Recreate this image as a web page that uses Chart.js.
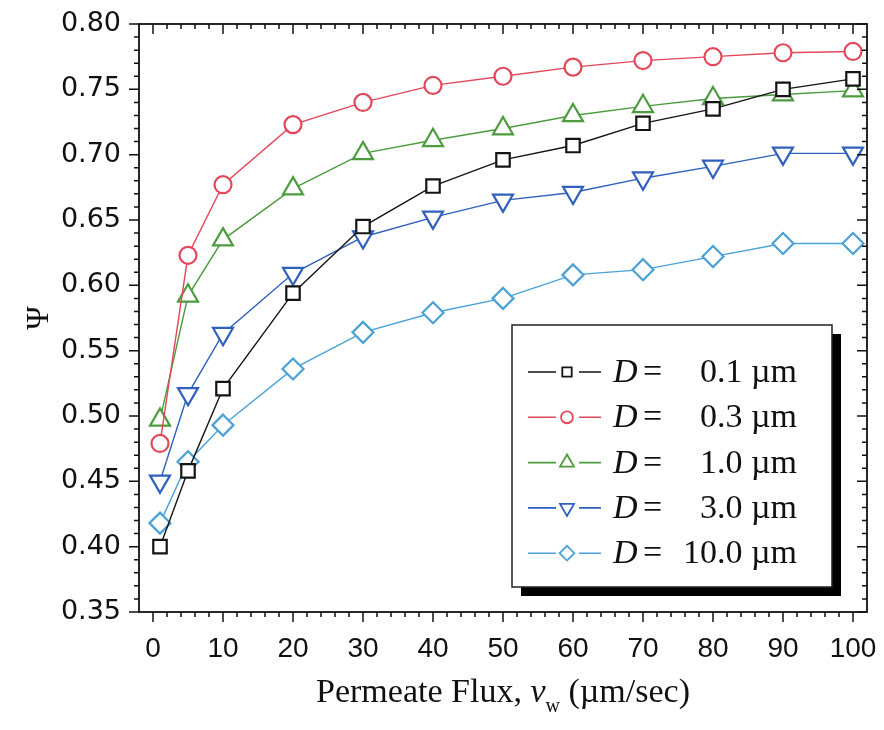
<!DOCTYPE html>
<html>
<head>
<meta charset="utf-8">
<script src="https://cdn.jsdelivr.net/npm/chart.js@4.4.1/dist/chart.umd.min.js"></script>
<style>
  html, body { margin: 0; padding: 0; background: #fff; }
  #wrap { width: 884px; height: 730px; }
</style>
</head>
<body>
<div id="wrap"><canvas id="psi-chart" width="884" height="730"></canvas></div>
<script>
// permeate flux (um/sec) and Psi values
const fluxValues = [1, 5, 10, 20, 30, 40, 50, 60, 70, 80, 90, 100];
const psiD01  = [0.400, 0.458, 0.521, 0.594, 0.645, 0.676, 0.696, 0.707, 0.724, 0.735, 0.750, 0.758];
const psiD03  = [0.479, 0.623, 0.677, 0.723, 0.740, 0.753, 0.760, 0.767, 0.772, 0.775, 0.778, 0.779];
const psiD10  = [0.497, 0.592, 0.635, 0.674, 0.701, 0.711, 0.720, 0.730, 0.737, 0.743, 0.746, 0.749];
const psiD30  = [0.450, 0.517, 0.563, 0.609, 0.637, 0.652, 0.665, 0.671, 0.682, 0.691, 0.701, 0.701];
const psiD100 = [0.418, 0.465, 0.493, 0.536, 0.564, 0.579, 0.590, 0.608, 0.612, 0.622, 0.632, 0.632];
const sizeLabels = ['0.1 µm', '0.3 µm', '1.0 µm', '3.0 µm', '10.0 µm'];
const xTickValues = [0, 10, 20, 30, 40, 50, 60, 70, 80, 90, 100];
const yTickValues = [0.35, 0.40, 0.45, 0.50, 0.55, 0.60, 0.65, 0.70, 0.75, 0.80];

const colors = ['#141414', '#e2475a', '#4c9c3e', '#2f60bd', '#4ba2d6'];
const styles = [
  { pointStyle: 'rect', radius: 9.5, rotation: 0 },
  { pointStyle: 'circle', radius: 8.5, rotation: 0 },
  { pointStyle: 'triangle', radius: 11.5, rotation: 0 },
  { pointStyle: 'triangle', radius: 11.5, rotation: 180 },
  { pointStyle: 'rectRot', radius: 10.5, rotation: 0 }
];
const allSeries = [psiD01, psiD03, psiD10, psiD30, psiD100];

function toPoints(ys) {
  return fluxValues.map((x, i) => ({ x: x, y: ys[i] }));
}

const datasets = allSeries.map((ys, i) => ({
  label: 'D = ' + sizeLabels[i],
  data: toPoints(ys),
  borderColor: colors[i],
  borderWidth: 1.4,
  pointStyle: styles[i].pointStyle,
  pointRadius: styles[i].radius,
  pointRotation: styles[i].rotation,
  pointBorderWidth: 2.2,
  pointBorderColor: colors[i],
  pointBackgroundColor: '#fff',
  fill: false,
  tension: 0,
  clip: false
}));

// frame, inward/outward ticks, legend box and axis titles
const framePlugin = {
  id: 'frame',
  afterDraw(chart) {
    const ctx = chart.ctx;
    const a = chart.chartArea;
    const xs = chart.scales.x, ys = chart.scales.y;
    ctx.save();
    ctx.strokeStyle = '#111';
    ctx.lineWidth = 1.8;
    ctx.strokeRect(a.left, a.top, a.right - a.left, a.bottom - a.top);

    ctx.lineWidth = 1.5;
    ctx.beginPath();
    for (let v = 0; v <= 100; v += 2) {
      const px = xs.getPixelForValue(v);
      const len = v % 10 === 0 ? 10 : 5;
      ctx.moveTo(px, a.bottom); ctx.lineTo(px, a.bottom + len);
      ctx.moveTo(px, a.top); ctx.lineTo(px, a.top + len);
    }
    for (let k = 35; k <= 80; k++) {
      const py = ys.getPixelForValue(k / 100);
      const len = k % 5 === 0 ? 10 : 5;
      ctx.moveTo(a.left, py); ctx.lineTo(a.left - len, py);
      ctx.moveTo(a.right, py); ctx.lineTo(a.right - len, py);
    }
    ctx.stroke();

    // legend
    const bx = 512, by = 325, bw = 320, bh = 262;
    ctx.fillStyle = '#000';
    ctx.fillRect(bx + 9, by + 9, bw, bh);
    ctx.fillStyle = '#fff';
    ctx.fillRect(bx, by, bw, bh);
    ctx.lineWidth = 1.5;
    ctx.strokeStyle = '#222';
    ctx.strokeRect(bx, by, bw, bh);

    for (let i = 0; i < 5; i++) {
      const ry = 372 + i * 45.3;
      ctx.strokeStyle = colors[i];
      ctx.lineWidth = 1.6;
      ctx.beginPath();
      ctx.moveTo(528, ry); ctx.lineTo(556, ry);
      ctx.moveTo(579, ry); ctx.lineTo(601, ry);
      ctx.stroke();
      ctx.fillStyle = '#fff';
      ctx.lineWidth = 1.8;
      Chart.helpers.drawPoint(ctx, {
        pointStyle: styles[i].pointStyle,
        radius: styles[i].radius * 0.7,
        rotation: styles[i].rotation,
        borderWidth: 1.8
      }, 567, ry);

      ctx.fillStyle = '#111';
      ctx.textBaseline = 'middle';
      ctx.textAlign = 'left';
      ctx.font = 'italic 34px "Liberation Serif"';
      ctx.fillText('D', 613, ry + 1);
      ctx.font = '34px "Liberation Serif"';
      ctx.fillText('=', 643, ry + 1);
      ctx.textAlign = 'right';
      ctx.fillText(sizeLabels[i], 797, ry + 1);
    }

    // y title
    ctx.fillStyle = '#111';
    ctx.save();
    ctx.translate(40, 318);
    ctx.rotate(-Math.PI / 2);
    ctx.textAlign = 'center';
    ctx.textBaseline = 'middle';
    ctx.font = '32px "Liberation Serif"';
    ctx.fillText('Ψ', 0, 0);
    ctx.restore();

    // x title with italic v and subscript w
    const parts = [
      { t: 'Permeate Flux, ', f: '34px "Liberation Serif"', dy: 0 },
      { t: 'v', f: 'italic 34px "Liberation Serif"', dy: 0 },
      { t: 'w', f: '20px "Liberation Serif"', dy: 10 },
      { t: ' (µm/sec)', f: '34px "Liberation Serif"', dy: 0 }
    ];
    let total = 0;
    parts.forEach(p => { ctx.font = p.f; p.w = ctx.measureText(p.t).width; total += p.w; });
    let tx = (a.left + a.right) / 2 - total / 2;
    ctx.textAlign = 'left';
    ctx.textBaseline = 'alphabetic';
    parts.forEach(p => { ctx.font = p.f; ctx.fillText(p.t, tx, 702 + p.dy); tx += p.w; });
    ctx.restore();
  }
};

const ctx = document.getElementById('psi-chart').getContext('2d');
new Chart(ctx, {
  type: 'line',
  data: { datasets: datasets },
  options: {
    responsive: false,
    animation: false,
    devicePixelRatio: 1,
    layout: { padding: { top: 24, right: 17, left: 0, bottom: 0 } },
    plugins: { legend: { display: false }, tooltip: { enabled: false } },
    scales: {
      x: {
        type: 'linear',
        min: -2,
        max: 102,
        grid: { display: false },
        border: { display: false },
        afterBuildTicks: s => { s.ticks = xTickValues.map(v => ({ value: v })); },
        afterFit: s => { s.height = 118; s.paddingLeft = 0; s.paddingRight = 0; },
        ticks: {
          maxRotation: 0,
          autoSkip: false,
          padding: 12,
          color: '#111',
          font: { family: '"Liberation Sans"', size: 28 },
          callback: v => String(v)
        }
      },
      y: {
        type: 'linear',
        min: 0.35,
        max: 0.80,
        grid: { display: false },
        border: { display: false },
        afterBuildTicks: s => { s.ticks = yTickValues.map(v => ({ value: v })); },
        afterFit: s => { s.width = 139; s.paddingTop = 0; s.paddingBottom = 0; },
        ticks: {
          autoSkip: false,
          padding: 10,
          color: '#111',
          font: { family: '"DejaVu Sans"', size: 27 },
          callback: v => Number(v).toFixed(2)
        }
      }
    }
  },
  plugins: [framePlugin]
});
</script>
</body>
</html>
